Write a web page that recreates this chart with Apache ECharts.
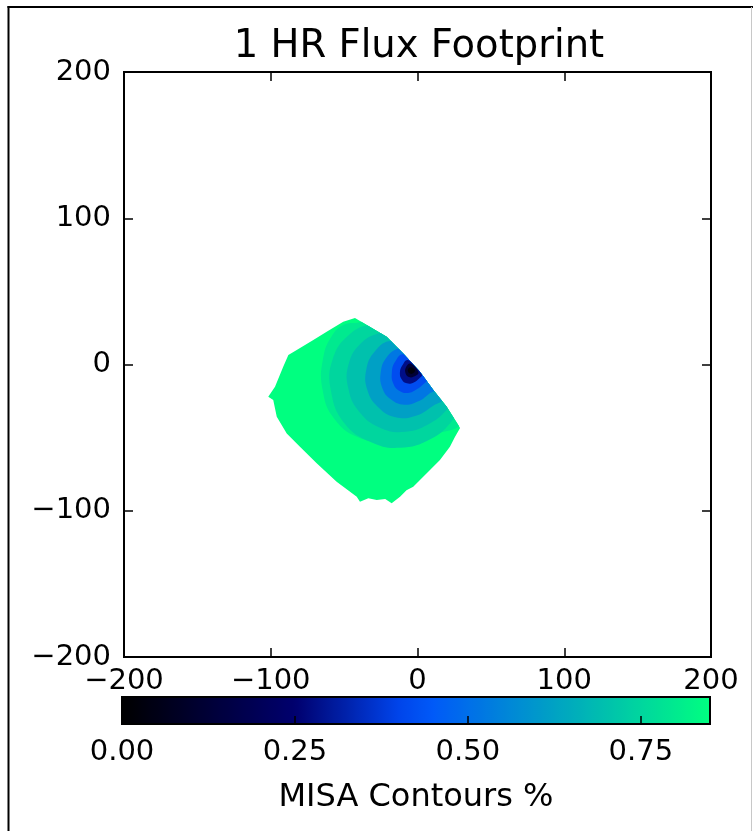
<!DOCTYPE html>
<html>
<head>
<meta charset="utf-8">
<script src="https://cdn.jsdelivr.net/npm/echarts@6/dist/echarts.min.js"></script>
<style>
  html, body { margin: 0; padding: 0; background: #fff; }
  #chart { width: 753px; height: 831px; }
</style>
</head>
<body>
<div id="chart"></div>
<script>
// ---------------- data ----------------
const TITLE = '1 HR Flux Footprint';
const CBAR_LABEL = 'MISA Contours %';
const AXIS_MIN = -200, AXIS_MAX = 200, AXIS_STEP = 100;
const CBAR_MIN = 0, CBAR_MAX = 0.85, CBAR_STEP = 0.25;

// colour map sampled from the colour bar, evenly spaced from 0 to 0.85
const COLORMAP = ['#000000', '#000016', '#00002c', '#000042', '#000058', '#00006e',
  '#001797', '#002dc1', '#0044ea', '#005af8', '#006fe9', '#0083da', '#0098cb',
  '#00acbc', '#00c1ad', '#00d69e', '#00ea8f', '#00ff80'];

// footprint outline (metres)
const DOMAIN = [[-42.6, 31.8], [-21.0, 19.0], [-9.7, 7.6], [1.7, -4.9], [10.8, -17.4], [19.9, -28.9],
  [27.8, -41.4], [29.0, -43.4], [25.5, -49.5], [22.1, -56.2], [15.3, -65.3], [6.3, -74.4], [-2.9, -83.6],
  [-7.5, -86.0], [-11.9, -90.4], [-17.6, -94.9], [-22.0, -92.0], [-27.8, -92.7], [-33.5, -91.5],
  [-39.2, -93.8], [-41.4, -90.4], [-55.1, -80.2], [-68.7, -67.6], [-80.1, -56.2], [-89.1, -47.1],
  [-95.9, -35.7], [-98.3, -24.3], [-101.7, -22.0], [-97.1, -15.2], [-91.5, -1.5], [-88.0, 6.5],
  [-82.3, 9.9], [-71.0, 16.7], [-61.9, 22.4], [-50.6, 29.3]];

// contour polygons (metres), clipped to the outline, and their levels
const C80 = [[-38.1, 29.4], [-50.2, 27.2], [-58.6, 19.2], [-64.3, 4.4], [-64.8, -16.8], [-56.6, -37.3],
  [-38.1, -50.7], [-13.6, -52.8], [11.7, -47.6], [30.0, -40.0], [22.0, -27.0], [13.0, -15.5],
  [4.0, -3.0], [-7.5, 9.5], [-19.0, 21.0], [-38.0, 33.0]];
const C75 = [[-31.0, 27.0], [-47.0, 20.0], [-58.0, 3.0], [-59.0, -18.0], [-50.0, -40.0], [-32.0, -53.0],
  [-12.0, -57.0], [9.0, -51.0], [24.0, -38.0], [26.0, -30.0], [13.0, -15.5], [4.0, -3.0],
  [-7.5, 9.5], [-19.0, 21.0]];
const C70 = [[-24.0, 22.0], [-38.0, 15.0], [-47.0, 0.0], [-47.0, -17.0], [-40.0, -32.0], [-26.0, -43.0],
  [-8.0, -46.0], [9.0, -40.0], [20.0, -31.0], [22.0, -27.0], [13.0, -15.5], [4.0, -3.0],
  [-7.5, 9.5], [-19.0, 21.0]];
const C62 = [[-18.0, 16.0], [-29.0, 9.0], [-35.0, -4.0], [-34.0, -18.0], [-27.0, -29.0], [-15.0, -36.0],
  [-1.0, -35.0], [11.0, -28.0], [17.0, -24.0], [13.0, -15.5], [4.0, -3.0], [-7.5, 9.5]];
const C52 = [[-13.0, 11.0], [-21.0, 5.0], [-25.0, -5.0], [-24.0, -16.0], [-18.0, -24.0], [-9.0, -27.5],
  [1.0, -25.0], [8.0, -20.0], [12.0, -17.0], [4.0, -3.0], [-7.5, 9.5]];
const C42 = [[-9.5, 7.0], [-15.5, 1.5], [-17.5, -6.0], [-16.5, -13.0], [-12.5, -18.0], [-6.5, -19.5],
  [-0.5, -17.0], [4.5, -13.0], [8.0, -9.0], [4.0, -3.0]];
const C28 = [[-6.4, 3.0], [-10.4, -0.7], [-12.0, -6.0], [-10.6, -10.4], [-7.3, -12.9], [-2.9, -12.5],
  [1.5, -9.2], [3.0, -6.9]];
const C12 = [[-5.0, 0.6], [-8.0, -2.3], [-8.1, -6.1], [-5.8, -8.6], [-2.4, -8.2], [0.6, -5.4]];
const C03 = [[-4.6, -1.9], [-6.6, -3.7], [-5.2, -6.2], [-2.8, -5.8], [-1.8, -3.9]];

const SHAPES = [DOMAIN, C80, C75, C70, C62, C52, C42, C28, C12, C03];
const LEVELS = [0.85, 0.80, 0.75, 0.70, 0.62, 0.52, 0.42, 0.28, 0.12, 0.03];

// ---------------- chart ----------------
const FONT = 'DejaVu Sans';
const minus = v => (v < 0 ? '\u2212' + Math.abs(v) : String(v));
const chart = echarts.init(document.getElementById('chart'), null, { renderer: 'canvas' });

const mainTickLine = { show: true, inside: true, length: 9, lineStyle: { color: '#000', width: 1.5 } };
const noLine = { show: false, onZero: false };

chart.setOption({
  backgroundColor: '#fff',
  animation: false,
  title: {
    text: TITLE, left: 414, top: 22, textAlign: 'center',
    textStyle: { fontFamily: FONT, fontSize: 38.5, fontWeight: 'normal', color: '#000' }
  },
  grid: [
    { left: 124, top: 72, width: 587, height: 585, show: true, borderColor: '#000', borderWidth: 2, backgroundColor: 'transparent' },
    { left: 122, top: 697, width: 588, height: 27, show: true, borderColor: '#000', borderWidth: 2, backgroundColor: 'transparent', z: 10 }
  ],
  xAxis: [
    { gridIndex: 0, type: 'value', min: AXIS_MIN, max: AXIS_MAX, interval: AXIS_STEP, position: 'bottom',
      axisLine: noLine, splitLine: { show: false }, axisTick: mainTickLine,
      axisLabel: { formatter: minus, fontFamily: FONT, fontSize: 29, color: '#000', margin: 10 } },
    { gridIndex: 0, type: 'value', min: AXIS_MIN, max: AXIS_MAX, interval: AXIS_STEP, position: 'top',
      axisLine: noLine, splitLine: { show: false }, axisTick: mainTickLine, axisLabel: { show: false } },
    { gridIndex: 1, type: 'value', min: CBAR_MIN, max: CBAR_MAX, interval: CBAR_STEP, position: 'bottom', z: 10,
      axisLine: noLine, splitLine: { show: false },
      axisTick: { show: true, inside: true, length: 8, lineStyle: { color: '#000', width: 1.5 } },
      axisLabel: { formatter: v => v.toFixed(2), showMaxLabel: false, fontFamily: FONT, fontSize: 29, color: '#000', margin: 14 },
      name: CBAR_LABEL, nameLocation: 'middle', nameGap: 58,
      nameTextStyle: { fontFamily: FONT, fontSize: 32, color: '#000' } }
  ],
  yAxis: [
    { gridIndex: 0, type: 'value', min: AXIS_MIN, max: AXIS_MAX, interval: AXIS_STEP, position: 'left',
      axisLine: noLine, splitLine: { show: false }, axisTick: mainTickLine,
      axisLabel: { formatter: minus, fontFamily: FONT, fontSize: 29, color: '#000', margin: 13 } },
    { gridIndex: 0, type: 'value', min: AXIS_MIN, max: AXIS_MAX, interval: AXIS_STEP, position: 'right',
      axisLine: noLine, splitLine: { show: false }, axisTick: mainTickLine, axisLabel: { show: false } },
    { gridIndex: 1, type: 'value', min: 0, max: 1, show: false }
  ],
  visualMap: {
    type: 'continuous', min: CBAR_MIN, max: CBAR_MAX, dimension: 0, seriesIndex: 0,
    orient: 'horizontal', left: 122, top: 697, itemHeight: 588, itemWidth: 27,
    calculable: false, hoverLink: false, padding: 0, text: null, showLabel: false,
    inRange: { color: COLORMAP }
  },
  graphic: [
    { type: 'line', shape: { x1: 8.5, y1: 6, x2: 8.5, y2: 831 }, style: { stroke: '#000', lineWidth: 2 } },
    { type: 'line', shape: { x1: 7.5, y1: 7, x2: 753, y2: 7 }, style: { stroke: '#000', lineWidth: 2 } },
    { type: 'line', shape: { x1: 751.5, y1: 7, x2: 751.5, y2: 831 }, style: { stroke: '#c8c8c8', lineWidth: 1 } }
  ],
  series: [{
    type: 'custom', xAxisIndex: 0, yAxisIndex: 0, clip: true,
    data: LEVELS.map((lv, i) => [lv, i]),
    renderItem: function (params, api) {
      const idx = api.value(1);
      const pts = SHAPES[idx].map(p => api.coord(p));
      const el = {
        type: 'polygon',
        shape: { points: pts, smooth: idx === 0 ? 0 : 0.45 },
        style: { fill: api.visual('color') }
      };
      if (idx > 0) {
        el.clipPath = { type: 'polygon', shape: { points: DOMAIN.map(p => api.coord(p)) } };
      }
      return el;
    }
  }]
});
</script>
</body>
</html>
